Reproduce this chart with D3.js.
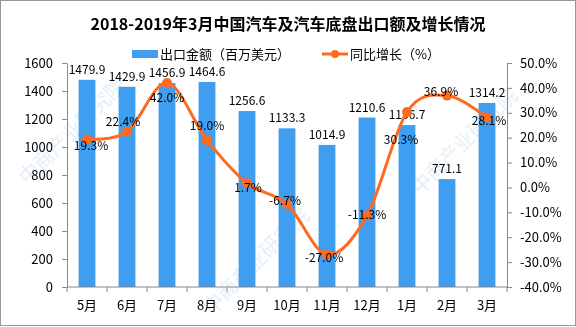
<!DOCTYPE html>
<html>
<head>
<meta charset="utf-8">
<script src="https://cdn.jsdelivr.net/npm/d3@7"></script>
<style>
  body { margin: 0; background: #fff; }
  text { font-family: "Noto Sans CJK SC", sans-serif; }
</style>
</head>
<body>
<div id="chart"></div>
<script>
// Data
const months = ["5月", "6月", "7月", "8月", "9月", "10月", "11月", "12月", "1月", "2月", "3月"];
const exportValue = [1479.9, 1429.9, 1456.9, 1464.6, 1256.6, 1133.3, 1014.9, 1210.6, 1156.7, 771.1, 1314.2];
const growthRate = [19.3, 22.4, 42.0, 19.0, 1.7, -6.7, -27.0, -11.3, 30.3, 36.9, 28.1];
const leftTicks = [0, 200, 400, 600, 800, 1000, 1200, 1400, 1600];
const rightTicks = [-40, -30, -20, -10, 0, 10, 20, 30, 40, 50];

// label nudges for the % labels (layout only)
const pctDx = [4, -4, 0, 0, 1, -2, -3, 0, -6, -6, 2];
const pctDy = [11, -6, 19, -10, 9, 1, 7, 3, 32, 0, 7];

const width = 576;
const height = 327;
const plotLeft = 67, plotRight = 507, plotTop = 63, plotBottom = 287;

const barColor = "#3f9ef0";
const lineColor = "#ff6a1f";
const axisColor = "#888";

const svg = d3.select("#chart")
  .append("svg")
  .attr("width", width)
  .attr("height", height);

// outer border
svg.append("rect")
  .attr("x", 0.5).attr("y", 0.5)
  .attr("width", width - 1).attr("height", height - 2)
  .attr("fill", "#fff")
  .attr("stroke", "#999");

// watermark
const wm = svg.append("g").attr("fill", "#cfe2f3").attr("opacity", 0.6)
  .style("font-size", "20px");
[[212, 316], [28, 186], [420, 196]].forEach(([x, y]) => {
  wm.append("text")
    .attr("transform", `translate(${x},${y}) rotate(-45)`)
    .text("中商产业研究院");
});

// scales
const x = d3.scaleBand()
  .domain(months)
  .range([plotLeft, plotRight])
  .paddingInner(0.58)
  .paddingOuter(0.29);

const xStep = d3.scalePoint()
  .domain(months)
  .range([plotLeft, plotRight])
  .padding(0.5);

const y = d3.scaleLinear().domain([0, 1600]).range([plotBottom, plotTop]);
const y2 = d3.scaleLinear().domain([-40, 50]).range([plotBottom, plotTop]);

// bars
svg.selectAll(".bar")
  .data(months)
  .enter()
  .append("rect")
  .attr("class", "bar")
  .attr("x", (d) => x(d))
  .attr("y", (d, i) => y(exportValue[i]))
  .attr("width", x.bandwidth())
  .attr("height", (d, i) => y(0) - y(exportValue[i]))
  .attr("fill", barColor);

// axes
const styleAxis = (g) => {
  g.selectAll("path").attr("stroke", axisColor);
  g.selectAll("line").attr("stroke", axisColor);
  g.selectAll("text").attr("fill", "#000").style("font-size", "13px");
};

svg.append("g")
  .attr("transform", `translate(${plotLeft},0)`)
  .call(d3.axisLeft(y).tickValues(leftTicks).tickSize(5).tickSizeOuter(0).tickPadding(9)
    .tickFormat((d) => String(d)))
  .call(styleAxis);

svg.append("g")
  .attr("transform", `translate(${plotRight},0)`)
  .call(d3.axisRight(y2).tickValues(rightTicks).tickSize(5).tickSizeOuter(0).tickPadding(8)
    .tickFormat((d) => d.toFixed(1) + "%"))
  .call(styleAxis);

// bottom axis: line + separators between months
const xAxis = svg.append("g").attr("transform", `translate(0,${plotBottom})`);
xAxis.append("line")
  .attr("x1", plotLeft).attr("x2", plotRight)
  .attr("stroke", axisColor);
xAxis.selectAll(".sep")
  .data(d3.range(months.length + 1))
  .enter()
  .append("line")
  .attr("x1", (i) => plotLeft + i * x.step())
  .attr("x2", (i) => plotLeft + i * x.step())
  .attr("y1", 0).attr("y2", 5)
  .attr("stroke", axisColor);
xAxis.selectAll(".lbl")
  .data(months)
  .enter()
  .append("text")
  .attr("x", (d) => xStep(d))
  .attr("y", 23)
  .attr("text-anchor", "middle")
  .style("font-size", "13px")
  .text((d) => d);

// bar value labels
svg.selectAll(".bar-label")
  .data(months)
  .enter()
  .append("text")
  .attr("x", (d) => xStep(d))
  .attr("y", (d, i) => y(exportValue[i]) - 6)
  .attr("text-anchor", "middle")
  .style("font-size", "12px")
  .text((d, i) => exportValue[i].toFixed(1));

// growth line
const line = d3.line()
  .x((d, i) => xStep(months[i]))
  .y((d) => y2(d))
  .curve(d3.curveCardinal.tension(0));

svg.append("path")
  .datum(growthRate)
  .attr("d", line)
  .attr("fill", "none")
  .attr("stroke", lineColor)
  .attr("stroke-width", 3);

svg.selectAll(".dot")
  .data(growthRate)
  .enter()
  .append("circle")
  .attr("cx", (d, i) => xStep(months[i]))
  .attr("cy", (d) => y2(d))
  .attr("r", 5)
  .attr("fill", lineColor);

svg.selectAll(".pct-label")
  .data(growthRate)
  .enter()
  .append("text")
  .attr("x", (d, i) => xStep(months[i]) + pctDx[i])
  .attr("y", (d, i) => y2(d) + pctDy[i])
  .attr("text-anchor", "middle")
  .style("font-size", "12px")
  .text((d) => d.toFixed(1) + "%");

// title
svg.append("text")
  .attr("x", 288)
  .attr("y", 30)
  .attr("text-anchor", "middle")
  .style("font-size", "16px")
  .style("font-weight", "bold")
  .text("2018-2019年3月中国汽车及汽车底盘出口额及增长情况");

// legend
const legend = svg.append("g");
legend.append("rect")
  .attr("x", 132).attr("y", 50)
  .attr("width", 26).attr("height", 8)
  .attr("fill", barColor);
legend.append("text")
  .attr("x", 160).attr("y", 59)
  .style("font-size", "13px")
  .text("出口金额（百万美元）");
legend.append("line")
  .attr("x1", 322).attr("x2", 348)
  .attr("y1", 54).attr("y2", 54)
  .attr("stroke", lineColor)
  .attr("stroke-width", 3);
legend.append("circle")
  .attr("cx", 335).attr("cy", 54).attr("r", 4)
  .attr("fill", lineColor);
legend.append("text")
  .attr("x", 350).attr("y", 59)
  .style("font-size", "13px")
  .text("同比增长（%）");
</script>
</body>
</html>
